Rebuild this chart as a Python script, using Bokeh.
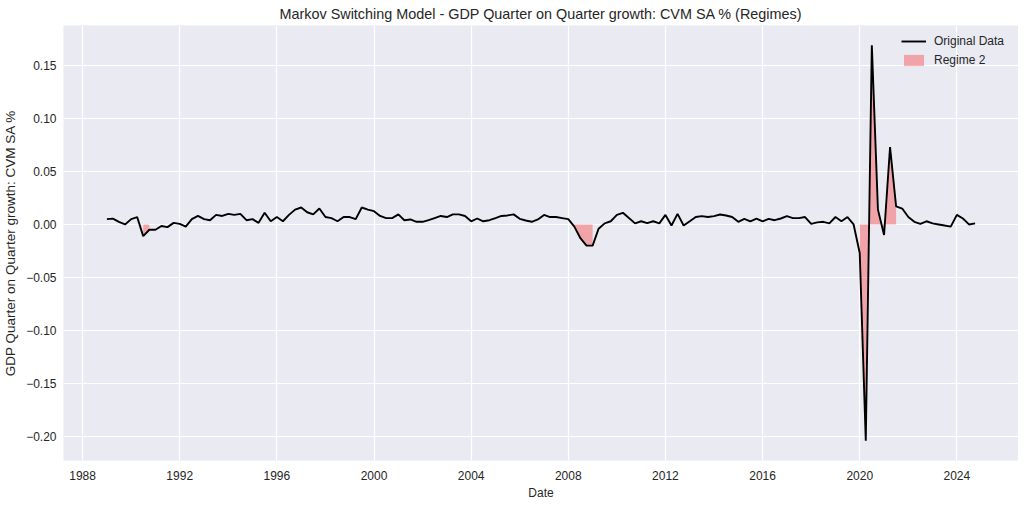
import pandas as pd
from bokeh.plotting import figure
from bokeh.models import (Range1d, FixedTicker, CustomJSTickFormatter, Legend,
                          LegendItem, ColumnDataSource)
from bokeh.embed import file_html
from bokeh.resources import INLINE

# ---------------- data ----------------
dates = pd.date_range("1989-01-01", periods=144, freq="QS")

growth = [
    0.005, 0.0055, 0.0025, 0.0, 0.005, 0.007, -0.011, -0.005,
    -0.005, -0.0015, -0.0025, 0.0015, 0.0005, -0.002, 0.005, 0.008,
    0.005, 0.004, 0.009, 0.008, 0.010, 0.009, 0.010, 0.004,
    0.005, 0.0015, 0.011, 0.003, 0.007, 0.003, 0.009, 0.014,
    0.016, 0.0115, 0.0095, 0.015, 0.007, 0.006, 0.003, 0.007,
    0.007, 0.005, 0.016, 0.014, 0.0125, 0.008, 0.006, 0.006,
    0.0095, 0.004, 0.0047, 0.0025, 0.0025, 0.004, 0.006, 0.008,
    0.007, 0.0095, 0.0095, 0.008, 0.003, 0.0056, 0.003, 0.004,
    0.006, 0.008, 0.0085, 0.0095, 0.0053, 0.0037, 0.0025, 0.0047,
    0.009, 0.007, 0.007, 0.006, 0.005, -0.002, -0.013, -0.020,
    -0.020, -0.004, 0.001, 0.003, 0.009, 0.011, 0.006, 0.001,
    0.003, 0.0012, 0.003, 0.001, 0.009, -0.001, 0.010, -0.001,
    0.003, 0.007, 0.0078, 0.007, 0.0078, 0.0094, 0.0084, 0.007,
    0.0025, 0.0053, 0.003, 0.0056, 0.003, 0.0053, 0.004, 0.0056,
    0.0078, 0.006, 0.006, 0.007, 0.0006, 0.002, 0.0025, 0.001,
    0.007, 0.003, 0.007, 0.0, -0.027, -0.204, 0.169, 0.014,
    -0.010, 0.073, 0.017, 0.015, 0.007, 0.0025, 0.0006, 0.003,
    0.001, 0.0, -0.001, -0.002, 0.009, 0.0056, 0.0, 0.001,
]

regime = [
    1, 1, 1, 1, 1, 1, 2, 2, 1, 1, 1, 1, 1, 1, 1, 1,
    1, 1, 1, 1, 1, 1, 1, 1, 1, 1, 1, 1, 1, 1, 1, 1,
    1, 1, 1, 1, 1, 1, 1, 1, 1, 1, 1, 1, 1, 1, 1, 1,
    1, 1, 1, 1, 1, 1, 1, 1, 1, 1, 1, 1, 1, 1, 1, 1,
    1, 1, 1, 1, 1, 1, 1, 1, 1, 1, 1, 1, 1, 2, 2, 2,
    2, 1, 1, 1, 1, 1, 1, 1, 1, 1, 1, 1, 1, 1, 1, 1,
    1, 1, 1, 1, 1, 1, 1, 1, 1, 1, 1, 1, 1, 1, 1, 1,
    1, 1, 1, 1, 1, 1, 1, 1, 1, 1, 1, 1, 2, 2, 2, 2,
    2, 2, 2, 1, 1, 1, 1, 1, 1, 1, 1, 1, 1, 1, 1, 1,
]

x_tick_years = [1988, 1992, 1996, 2000, 2004, 2008, 2012, 2016, 2020, 2024]
y_ticks = [-0.20, -0.15, -0.10, -0.05, 0.00, 0.05, 0.10, 0.15]

title_text = "Markov Switching Model - GDP Quarter on Quarter growth: CVM SA % (Regimes)"
x_label = "Date"
y_label = "GDP Quarter on Quarter growth: CVM SA %"

# ---------------- ranges (matplotlib-like 5% margins) ----------------
x0, x1 = dates[0], dates[-1]
xspan = x1 - x0
ymin, ymax = min(growth), max(growth)
yspan = ymax - ymin

FONT = "Liberation Sans"
TXT = "#262626"

p = figure(frame_width=955, frame_height=435, x_axis_type="datetime",
           output_backend="svg", toolbar_location=None,
           x_range=Range1d(x0 - xspan * 0.05, x1 + xspan * 0.05),
           y_range=Range1d(ymin - yspan * 0.05, ymax + yspan * 0.05),
           min_border_left=54, min_border_right=0,
           min_border_top=19, min_border_bottom=20)

p.title.text = title_text
p.title.align = "center"
p.title.text_font = FONT
p.title.text_font_size = "14.4px"
p.title.text_font_style = "normal"
p.title.text_color = TXT
p.title.standoff = 7

p.background_fill_color = "#EAEAF2"
p.border_fill_color = "white"
p.outline_line_color = None

# regime 2 fills (contiguous runs)
fills = []
i = 0
n = len(regime)
while i < n:
    if regime[i] == 2:
        j = i
        while j + 1 < n and regime[j + 1] == 2:
            j += 1
        src = ColumnDataSource(dict(x=list(dates[i:j + 1]),
                                    y=growth[i:j + 1]))
        r = p.varea(x="x", y1=0, y2="y", source=src,
                    fill_color="red", fill_alpha=0.3)
        fills.append(r)
        i = j + 1
    else:
        i += 1

line = p.line(x=list(dates), y=growth, line_color="black", line_width=1.9)

# axes
tick_ms = [pd.Timestamp(f"{yr}-01-01").value // 10**6 for yr in x_tick_years]
p.xaxis.ticker = FixedTicker(ticks=tick_ms)
p.xaxis.formatter = CustomJSTickFormatter(
    code="return new Date(tick).getUTCFullYear().toString();")
p.yaxis.ticker = FixedTicker(ticks=y_ticks)
p.yaxis.formatter = CustomJSTickFormatter(
    code="return tick.toFixed(2).replace('-', '\u2212');")

for ax in (p.xaxis, p.yaxis):
    ax.axis_line_color = None
    ax.major_tick_line_color = None
    ax.minor_tick_line_color = None
    ax.major_tick_out = 0
    ax.major_tick_in = 0
    ax.major_label_text_font = FONT
    ax.major_label_text_font_size = "12px"
    ax.major_label_text_color = TXT
    ax.axis_label_text_font = FONT
    ax.axis_label_text_font_style = "normal"
    ax.axis_label_text_color = TXT

p.xaxis.axis_label = x_label
p.xaxis.axis_label_text_font_size = "12px"
p.xaxis.major_label_standoff = 10
p.xaxis.axis_label_standoff = 3

p.yaxis.axis_label = y_label
p.yaxis.axis_label_text_font_size = "13.5px"
p.yaxis.major_label_standoff = 7
p.yaxis.axis_label_standoff = 5

p.xgrid.ticker = p.xaxis.ticker
p.ygrid.ticker = p.yaxis.ticker
for g in (p.xgrid, p.ygrid):
    g.grid_line_color = "white"
    g.grid_line_width = 1.2

legend = Legend(items=[LegendItem(label="Original Data", renderers=[line]),
                       LegendItem(label="Regime 2", renderers=[fills[0]])],
                location="top_right")
legend.background_fill_alpha = 0
legend.border_line_alpha = 0
legend.label_text_font = FONT
legend.label_text_font_size = "12px"
legend.label_text_color = TXT
legend.glyph_width = 25
legend.glyph_height = 14
legend.spacing = 5
legend.padding = 5
legend.margin = 4
legend.label_standoff = 8
legend.label_width = 75
p.add_layout(legend)

open("out.html", "w").write(file_html(p, INLINE))
